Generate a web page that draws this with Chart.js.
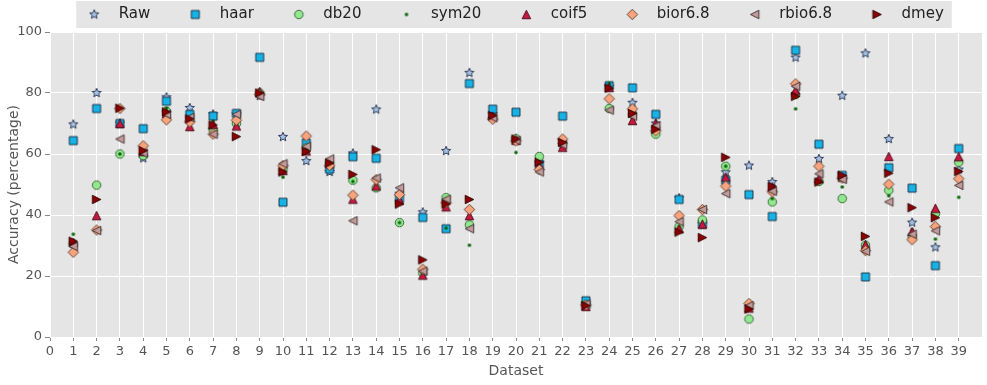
<!DOCTYPE html>
<html>
<head>
<meta charset="utf-8">
<script src="https://cdn.jsdelivr.net/npm/chart.js@4.4.1/dist/chart.umd.min.js"></script>
<style>
  html, body { margin: 0; padding: 0; background: #fff; }
  #wrap { width: 987px; height: 385px; }
</style>
</head>
<body>
<div id="wrap"><canvas id="accChart" width="987" height="385"></canvas></div>
<script>
// datasets 1..39 on the x axis
const datasetIds = [1, 2, 3, 4, 5, 6, 7, 8, 9, 10, 11, 12, 13, 14, 15, 16, 17, 18, 19, 20,
  21, 22, 23, 24, 25, 26, 27, 28, 29, 30, 31, 32, 33, 34, 35, 36, 37, 38, 39];

const seriesNames = ['Raw', 'haar', 'db20', 'sym20', 'coif5', 'bior6.8', 'rbio6.8', 'dmey'];

const rawAcc = [69.7, 80, 70, 58.6, 78.6, 75.1, 73, 73, 79, 65.6, 57.7, 54.1, 60.2, 74.6, 47, 40.9, 61, 86.6, 73, 65,
  57, 63, 11, 82, 76.8, 70, 45.5, 37, 54, 56.2, 50.8, 91.6, 58.4, 79.1, 93, 64.9, 37.5, 29.4, 54.9];
const haarAcc = [64.4, 74.9, 70, 68.3, 77.3, 73, 72.4, 73.3, 91.7, 44.2, 63.6, 55, 59.1, 58.6, 45.4, 39.2, 35.5, 83.1, 74.7, 73.7,
  56.8, 72.4, 11.9, 82.4, 81.7, 73, 45.1, 37, 51.4, 46.7, 39.5, 94, 63.2, 53, 19.7, 55.5, 48.8, 23.4, 61.8];
const db20Acc = [30.5, 49.8, 60, 59.5, 74, 71, 68, 70, 80, 55, 62, 57, 51.4, 48.9, 37.5, 21, 45.7, 36.8, 72, 65,
  59.2, 63.5, 10.5, 74.9, 73, 66.5, 36.2, 38.4, 56, 5.9, 44.3, 79.5, 51, 45.4, 30.1, 48.1, 33, 40.5, 57.3];
const sym20Acc = [33.7, 35, 60, 60, 75.1, 71.5, 70.8, 70, 79.5, 52.4, 61, 56, 51, 49, 37.5, 21, 35.7, 30.1, 72, 60.5,
  57, 63, 10.5, 83.2, 73, 68, 36, 36.1, 56, 9, 45.4, 74.8, 51, 49.2, 29, 46.3, 35.1, 32.1, 45.8];
const coif5Acc = [31, 39.8, 70, 60.8, 73.3, 69, 69.7, 69.2, 80.5, 54.6, 61, 56.8, 45.2, 49.5, 44.9, 20.3, 42.7, 39.8, 72.4, 64.5,
  56.2, 62.2, 10, 81.8, 71, 70, 35.5, 37, 52.4, 9.5, 49.2, 80.9, 51.9, 52.4, 30.3, 59.2, 34.6, 42.2, 59.1];
const biorAcc = [27.8, 35.1, 74.9, 62.7, 71.2, 70.5, 66.5, 71.1, 79.5, 56.2, 65.9, 56.2, 46.5, 51.6, 46.7, 22.2, 44, 41.8, 71.4, 64.3,
  54.9, 64.9, 10.5, 78.1, 74.8, 67.6, 39.8, 41.8, 49.5, 11, 47.6, 83, 56, 52.1, 28.3, 50.1, 31.9, 36.2, 51.9];
const rbioAcc = [29.7, 34.9, 64.9, 60.3, 73, 72, 66.5, 73, 78.9, 56.8, 62.5, 58.4, 38.1, 52.1, 48.9, 21.6, 45.2, 35.5, 71.9, 64.5,
  54.1, 63, 10.8, 74.4, 72.4, 69.2, 37.8, 41.8, 47, 10.3, 47.8, 82.2, 53.5, 51.7, 28.1, 44.3, 33.7, 34.8, 49.7];
const dmeyAcc = [31.4, 45.1, 75, 61.1, 73.8, 71.5, 69.5, 65.7, 80, 54.1, 60.8, 57, 53.3, 61.4, 43.6, 25.3, 43.6, 45.1, 72.6, 64.9,
  57.3, 63.8, 10.3, 81.6, 73.3, 68.1, 34.4, 32.6, 58.9, 9.2, 49.4, 78.9, 50.8, 53, 33, 53.7, 42.4, 39.1, 54.3];

const xTickValues = [0, 1, 2, 3, 4, 5, 6, 7, 8, 9, 10, 11, 12, 13, 14, 15, 16, 17, 18, 19,
  20, 21, 22, 23, 24, 25, 26, 27, 28, 29, 30, 31, 32, 33, 34, 35, 36, 37, 38, 39];
const yTickValues = [0, 20, 40, 60, 80, 100];

const allSeries = [rawAcc, haarAcc, db20Acc, sym20Acc, coif5Acc, biorAcc, rbioAcc, dmeyAcc];

// little canvases used as point styles (matplotlib-like markers)
function makeMarker(shape, size, fill, edge, lw) {
  const c = document.createElement('canvas');
  const dim = Math.ceil(size) + 4;
  c.width = dim;
  c.height = dim;
  const g = c.getContext('2d');
  const m = dim / 2, r = size / 2;
  g.beginPath();
  if (shape === 'square') {
    g.rect(m - r, m - r, size, size);
  } else if (shape === 'circle') {
    g.arc(m, m, r, 0, Math.PI * 2);
  } else if (shape === 'diamond') {
    g.moveTo(m, m - r); g.lineTo(m + r, m); g.lineTo(m, m + r); g.lineTo(m - r, m); g.closePath();
  } else if (shape === 'triUp') {
    g.moveTo(m, m - r); g.lineTo(m + r, m + r); g.lineTo(m - r, m + r); g.closePath();
  } else if (shape === 'triLeft') {
    g.moveTo(m - r, m); g.lineTo(m + r, m - r); g.lineTo(m + r, m + r); g.closePath();
  } else if (shape === 'triRight') {
    g.moveTo(m + r, m); g.lineTo(m - r, m - r); g.lineTo(m - r, m + r); g.closePath();
  } else if (shape === 'star') {
    for (let k = 0; k < 10; k++) {
      const rr = k % 2 ? r * 0.45 : r;
      const a = -Math.PI / 2 + k * Math.PI / 5;
      g.lineTo(m + rr * Math.cos(a), m + rr * Math.sin(a));
    }
    g.closePath();
  }
  g.fillStyle = fill;
  g.fill();
  if (edge) {
    g.strokeStyle = edge;
    g.lineWidth = lw;
    g.stroke();
  }
  return c;
}

const markers = [
  makeMarker('star', 9.5, '#a7c3e3', '#1f2d4d', 0.9),
  makeMarker('square', 8, '#17b2e6', '#14283a', 0.9),
  makeMarker('circle', 8.5, '#92e88e', '#2f5f2f', 0.9),
  makeMarker('circle', 3.6, '#0b660b', null, 0),
  makeMarker('triUp', 8.5, '#c9173f', '#3a0a14', 0.9),
  makeMarker('diamond', 10.5, '#f8a37c', '#5a3a2a', 0.9),
  makeMarker('triLeft', 8.5, '#c29b9b', '#3a2a2a', 0.9),
  makeMarker('triRight', 8.5, '#8b0000', '#2a0000', 0.9)
];

Chart.defaults.font.family = "'DejaVu Sans', sans-serif";

const LEGEND_SHIFT = 18;

const plotBackground = {
  id: 'plotBackground',
  afterLayout(chart) {
    // centre the legend over the plot area rather than the whole canvas
    const lg = chart.legend;
    if (!lg) return;
    lg.left += LEGEND_SHIFT;
    lg.right += LEGEND_SHIFT;
    (lg.legendHitBoxes || []).forEach(h => { h.left += LEGEND_SHIFT; });
  },
  beforeDraw(chart) {
    const { ctx, chartArea: a } = chart;
    ctx.save();
    ctx.fillStyle = '#fff';
    ctx.fillRect(0, 0, chart.width, chart.height);
    ctx.fillStyle = '#e5e5e5';
    ctx.fillRect(a.left, a.top, a.right - a.left, a.bottom - a.top);
    // legend frame
    const boxes = chart.legend && chart.legend.legendHitBoxes;
    if (boxes && boxes.length) {
      const first = boxes[0], last = boxes[boxes.length - 1];
      const x0 = first.left - 1;
      const x1 = last.left + last.width + 8;
      ctx.fillRect(x0, 1, x1 - x0, 27);
    }
    ctx.restore();
  }
};

const datasets = seriesNames.map((name, i) => ({
  label: name,
  data: datasetIds.map((d, j) => ({ x: d, y: allSeries[i][j] })),
  pointStyle: markers[i],
  pointRadius: 4,
  pointHoverRadius: 4,
  order: seriesNames.length - i   // later series drawn on top, like matplotlib
}));

const ctx = document.getElementById('accChart').getContext('2d');
const accChart = new Chart(ctx, {
  type: 'scatter',
  data: { datasets: datasets },
  options: {
    responsive: false,
    animation: false,
    layout: { padding: { top: -21, right: 2, left: 0, bottom: 0 } },
    plugins: {
      legend: {
        position: 'top',
        align: 'center',
        labels: {
          usePointStyle: true,
          pointStyleWidth: 34,
          padding: 28,
          color: '#222',
          font: { size: 15 },
          sort: (a, b) => a.datasetIndex - b.datasetIndex
        }
      },
      tooltip: { enabled: false }
    },
    scales: {
      x: {
        type: 'linear',
        min: 0,
        max: 40,
        afterBuildTicks: s => { s.ticks = xTickValues.map(v => ({ value: v })); },
        afterFit: s => { s.height = 48; },
        grid: { color: '#ffffff', lineWidth: 1, tickColor: '#888', tickLength: 4 },
        border: { display: false },
        ticks: { color: '#555', font: { size: 13 }, padding: 3, maxRotation: 0, autoSkip: false },
        title: { display: true, text: 'Dataset', color: '#555', font: { size: 14 }, padding: { top: 0, bottom: 5 } }
      },
      y: {
        min: 0,
        max: 100,
        afterBuildTicks: s => { s.ticks = yTickValues.map(v => ({ value: v })); },
        afterFit: s => { s.width = 50; },
        grid: { color: '#ffffff', lineWidth: 1, tickColor: '#888', tickLength: 5 },
        border: { display: false },
        ticks: { color: '#555', font: { size: 13 }, padding: 3 },
        title: { display: true, text: 'Accuracy (percentage)', color: '#555', font: { size: 14 }, padding: { top: 6, bottom: 0 } }
      }
    }
  },
  plugins: [plotBackground]
});
</script>
</body>
</html>
